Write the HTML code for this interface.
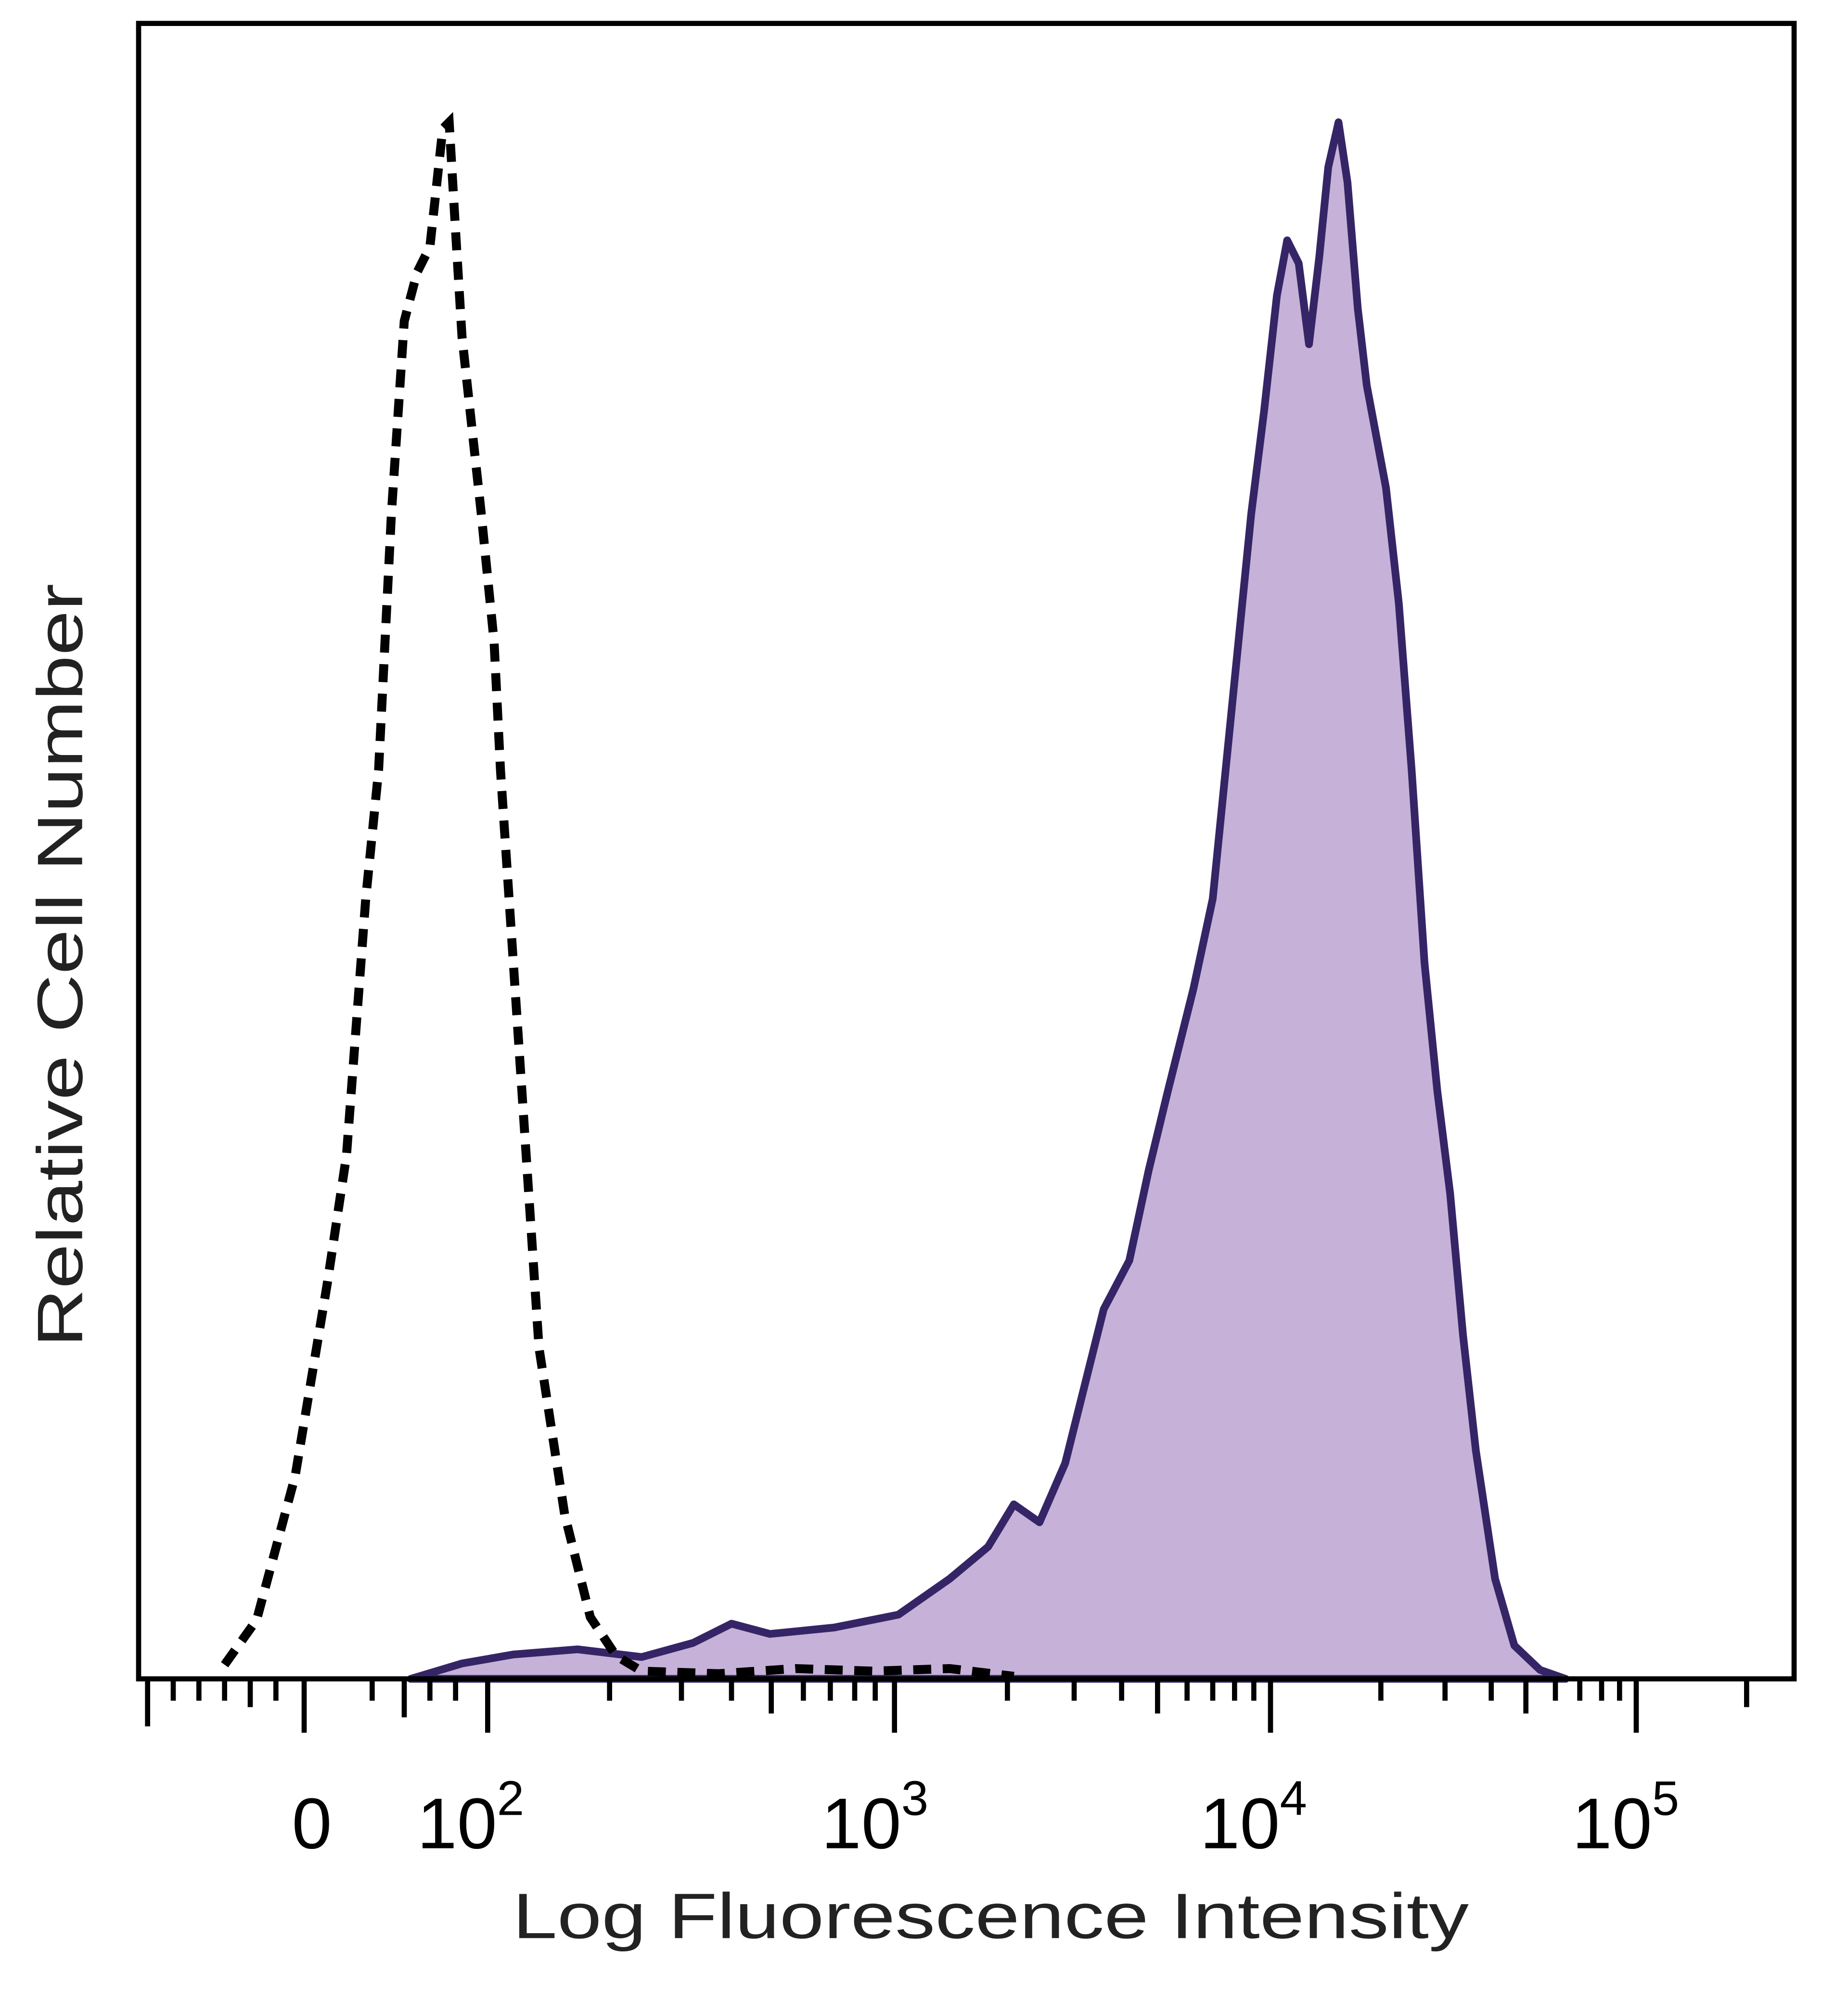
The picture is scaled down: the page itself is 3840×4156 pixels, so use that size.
<!DOCTYPE html>
<html><head><meta charset="utf-8"><style>
html,body{margin:0;padding:0;background:#fff;}
svg{display:block;}
</style></head><body>
<svg width="3840" height="4156" viewBox="0 0 1440 1558" xmlns="http://www.w3.org/2000/svg">
<rect width="1440" height="1558" fill="#fff"/>
<path d="M320,1308 L360,1296 L400,1289 L450,1285 L500,1291 L540,1280 L570,1265 L600,1273 L650,1268 L700,1258 L740,1230 L770,1205 L790,1172 L810,1186 L830,1140 L845,1080 L860,1020 L880,982 L895,912 L910,850 L930,770 L945,700 L955,600 L965,500 L975,400 L985,320 L995,230 L1003,187 L1012,205 L1020,268 L1028,200 L1035,130 L1043,95 L1050,142 L1058,240 L1065,300 L1080,380 L1090,470 L1100,600 L1110,750 L1120,850 L1130,930 L1140,1040 L1150,1130 L1165,1230 L1180,1282 L1200,1301 L1220,1308 Z" fill="#c6b1d8" stroke="#352566" stroke-width="6" stroke-linejoin="round"/>
<path d="M175,1297 L200,1262 L230,1150 L255,1000 L270,900 L285,700 L295,600 L305,400 L315,250 L325,212 L335,192 L345,100 L350,95 L355,180 L360,262 L375,400 L385,500 L390,600 L400,750 L410,900 L420,1050 L440,1180 L460,1260 L480,1290 L500,1302 L560,1304 L620,1300 L680,1302 L740,1300 L790,1306" fill="none" stroke="#000" stroke-width="7" stroke-dasharray="14,9"/>
<rect x="108" y="18" width="1290" height="1290" fill="none" stroke="#000" stroke-width="4"/>
<g stroke="#000" stroke-width="4">
<line x1="237" y1="1308" x2="237" y2="1350"/>
<line x1="380" y1="1308" x2="380" y2="1350"/>
<line x1="697" y1="1308" x2="697" y2="1350"/>
<line x1="990" y1="1308" x2="990" y2="1350"/>
<line x1="1275" y1="1308" x2="1275" y2="1350"/>
<line x1="115" y1="1308" x2="115" y2="1345"/>
<line x1="135" y1="1308" x2="135" y2="1325"/>
<line x1="155" y1="1308" x2="155" y2="1325"/>
<line x1="175" y1="1308" x2="175" y2="1325"/>
<line x1="195" y1="1308" x2="195" y2="1330"/>
<line x1="215" y1="1308" x2="215" y2="1325"/>
<line x1="290" y1="1308" x2="290" y2="1325"/>
<line x1="315" y1="1308" x2="315" y2="1338"/>
<line x1="335" y1="1308" x2="335" y2="1325"/>
<line x1="355" y1="1308" x2="355" y2="1325"/>
<line x1="475" y1="1308" x2="475" y2="1325"/>
<line x1="531" y1="1308" x2="531" y2="1325"/>
<line x1="570" y1="1308" x2="570" y2="1325"/>
<line x1="601" y1="1308" x2="601" y2="1335"/>
<line x1="626" y1="1308" x2="626" y2="1325"/>
<line x1="647" y1="1308" x2="647" y2="1325"/>
<line x1="666" y1="1308" x2="666" y2="1325"/>
<line x1="682" y1="1308" x2="682" y2="1325"/>
<line x1="785" y1="1308" x2="785" y2="1325"/>
<line x1="837" y1="1308" x2="837" y2="1325"/>
<line x1="874" y1="1308" x2="874" y2="1325"/>
<line x1="902" y1="1308" x2="902" y2="1335"/>
<line x1="925" y1="1308" x2="925" y2="1325"/>
<line x1="945" y1="1308" x2="945" y2="1325"/>
<line x1="962" y1="1308" x2="962" y2="1325"/>
<line x1="977" y1="1308" x2="977" y2="1325"/>
<line x1="1076" y1="1308" x2="1076" y2="1325"/>
<line x1="1126" y1="1308" x2="1126" y2="1325"/>
<line x1="1162" y1="1308" x2="1162" y2="1325"/>
<line x1="1189" y1="1308" x2="1189" y2="1335"/>
<line x1="1212" y1="1308" x2="1212" y2="1325"/>
<line x1="1231" y1="1308" x2="1231" y2="1325"/>
<line x1="1248" y1="1308" x2="1248" y2="1325"/>
<line x1="1262" y1="1308" x2="1262" y2="1325"/>
<line x1="1361" y1="1308" x2="1361" y2="1330"/>
</g>
<g font-family="Liberation Sans, sans-serif" fill="#000" font-size="56">
<text x="243" y="1440" text-anchor="middle">0</text>
<text x="325" y="1440">10<tspan font-size="38" dy="-26">2</tspan></text>
<text x="640" y="1440">10<tspan font-size="38" dy="-26">3</tspan></text>
<text x="935" y="1440">10<tspan font-size="38" dy="-26">4</tspan></text>
<text x="1225" y="1440">10<tspan font-size="38" dy="-26">5</tspan></text>
</g>
<text x="772" y="1510" text-anchor="middle" font-family="Liberation Sans, sans-serif" font-size="50" fill="#222" textLength="745" lengthAdjust="spacingAndGlyphs">Log Fluorescence Intensity</text>
<text transform="translate(64,752) rotate(-90)" text-anchor="middle" font-family="Liberation Sans, sans-serif" font-size="50" fill="#222" textLength="595" lengthAdjust="spacingAndGlyphs">Relative Cell Number</text>
</svg>
</body></html>
